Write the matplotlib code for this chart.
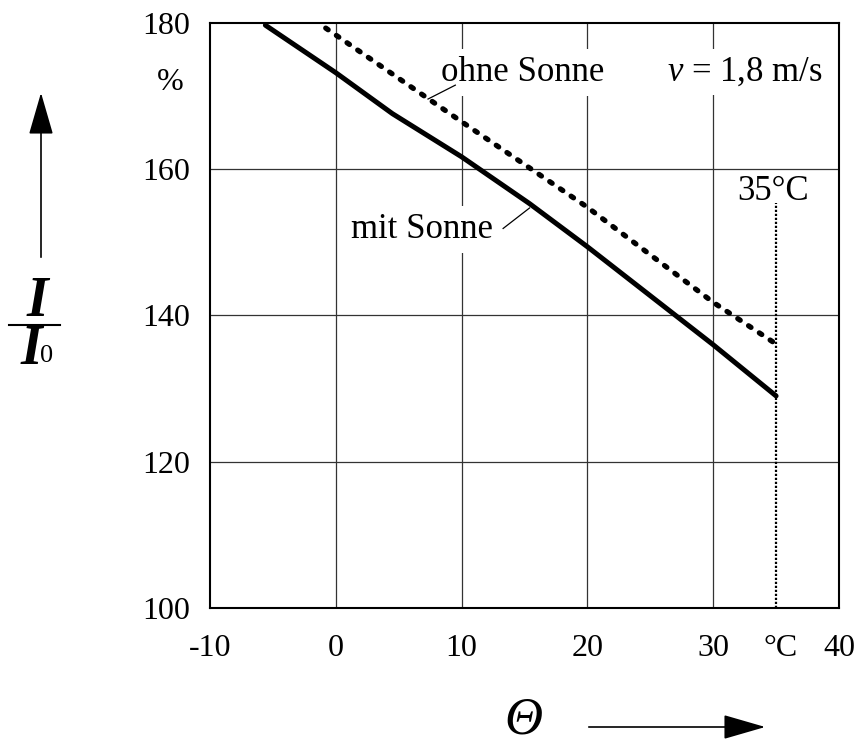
import matplotlib
matplotlib.use('Agg')
import matplotlib.pyplot as plt
from matplotlib.lines import Line2D

plt.rcParams['font.family'] = ['Liberation Serif', 'DejaVu Serif']
plt.rcParams['mathtext.fontset'] = 'custom'
plt.rcParams['mathtext.rm'] = 'Liberation Serif'
plt.rcParams['mathtext.it'] = 'Liberation Serif:italic'

# temperature (°C) vs current ratio I/I0 (%)
mit_x = [-5.6, 0, 4.5, 10, 15.4, 20, 30, 35]
mit_y = [179.7, 173.2, 167.6, 161.7, 155.3, 149.4, 136.0, 129.0]
ohne_x = [-0.8, 10, 20, 30, 35]
ohne_y = [179.3, 166.5, 154.8, 141.8, 136.1]

grid_x = [0, 10, 20, 30]
grid_y = [120, 140, 160]
xticks = [-10, 0, 10, 20, 30, 35.4, 40]
xlabels = ['-10', '0', '10', '20', '30', '°C', '40']
yticks = [100, 120, 140, 160, 180]

fig = plt.figure(figsize=(8.59, 7.44), dpi=100)
ax = fig.add_axes([0.2445, 0.1828, 0.7322, 0.7863])
ax.set_xlim(-10, 40)
ax.set_ylim(100, 180)

for gx in grid_x:
    ax.axvline(gx, color='#333333', lw=0.9, zorder=1)
for gy in grid_y:
    ax.axhline(gy, color='#333333', lw=0.9, zorder=1)

ax.plot(mit_x, mit_y, color='black', lw=3.6, solid_capstyle='round', zorder=4)
ax.plot(ohne_x, ohne_y, color='black', lw=3.8, linestyle=(0, (0.55, 1.9)),
        dash_capstyle='round', zorder=4)
ax.plot([35, 35], [100, 155.4], color='black', lw=1.6, linestyle=(0, (1, 0.8)), zorder=3)

box = dict(boxstyle='square,pad=0.2', fc='white', ec='none')
ax.text(8.4, 173.2, 'ohne Sonne', fontsize=25, ha='left', va='center', bbox=box, zorder=2)
ax.plot([7.33, 9.5], [169.6, 171.5], color='black', lw=0.9, zorder=3)
ax.text(12.5, 151.7, 'mit Sonne', fontsize=25, ha='right', va='center', bbox=box, zorder=2)
ax.plot([13.3, 15.4], [151.9, 154.7], color='black', lw=0.9, zorder=3)
ax.text(26.3, 173.3, r'$v$ = 1,8 m/s', fontsize=25, ha='left', va='center', bbox=box, zorder=2)
ax.text(34.75, 156.9, '35°C', fontsize=25, ha='center', va='center', zorder=2)
ax.text(-13.2, 171.8, '%', fontsize=23, ha='center', va='center', clip_on=False)

ax.set_xticks(xticks)
ax.set_xticklabels(xlabels)
ax.set_yticks(yticks)
ax.tick_params(length=0, labelsize=23)
ax.tick_params(axis='x', pad=19)
ax.tick_params(axis='y', pad=14)
for s in ax.spines.values():
    s.set_linewidth(1.5)

# y label: arrow and I/I0
W, H = 859.0, 744.0
fig.add_artist(Line2D([9 / W, 60 / W], [1 - 325 / H, 1 - 325 / H], color='black', lw=1.5))
fig.text(37 / W, 1 - 302 / H, 'I', fontsize=40, style='italic', weight='bold', ha='center', va='center')
fig.text(31 / W, 1 - 350 / H, 'I', fontsize=40, style='italic', weight='bold', ha='center', va='center')
fig.text(47 / W, 1 - 356 / H, '0', fontsize=19, ha='center', va='center')
fig.add_artist(matplotlib.patches.FancyArrowPatch(
    (41 / W, 1 - 260 / H), (41 / W, 1 - 90 / H), transform=fig.transFigure,
    arrowstyle='-|>,head_length=1.9,head_width=0.55', mutation_scale=14, color='black', lw=1.2))

# x label: Theta and arrow
fig.text(523 / W, 1 - 734 / H, 'Θ', fontsize=38, style='italic', ha='center', va='baseline')
fig.add_artist(matplotlib.patches.FancyArrowPatch(
    (586 / W, 1 - 727 / H), (768 / W, 1 - 727 / H), transform=fig.transFigure,
    arrowstyle='-|>,head_length=1.9,head_width=0.55', mutation_scale=14, color='black', lw=1.2))

fig.savefig('out.png', dpi=100)
